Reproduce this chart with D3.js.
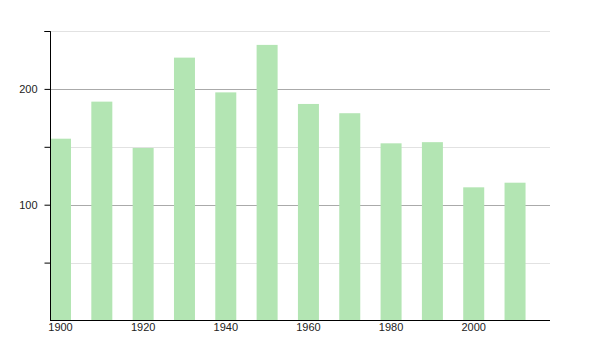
<!DOCTYPE html>
<html>
<head>
<meta charset="utf-8">
<script src="https://cdn.jsdelivr.net/npm/d3@7"></script>
<style>
  body { margin: 0; background: #fff; }
  svg text { font-family: "Liberation Sans", Arial, sans-serif; font-size: 11px; fill: #222; }
</style>
</head>
<body>
<div id="chart"></div>
<script>
const years = [1900, 1910, 1920, 1930, 1940, 1950, 1960, 1970, 1980, 1990, 2000, 2010];
const values = [157, 189, 149, 227, 197, 238, 187, 179, 153, 154, 115, 119];
const xTicks = [1900, 1920, 1940, 1960, 1980, 2000];
const yMajor = [100, 200];
const yMinor = [50, 150, 250];

const width = 600, height = 350;
const margin = { top: 31, right: 50, bottom: 30, left: 50 };

const svg = d3.select("#chart").append("svg")
  .attr("width", width)
  .attr("height", height);

const x = d3.scaleLinear().domain([1900, 2021]).range([margin.left, width - margin.right]);
const y = d3.scaleLinear().domain([0, 250]).range([height - margin.bottom + 0.5, margin.top]);
const barW = 21;

// blur for the soft bar edges
const defs = svg.append("defs");
defs.append("filter").attr("id", "soft")
  .attr("x", "-20%").attr("width", "140%")
  .append("feGaussianBlur").attr("stdDeviation", "0.6 0");

// grid lines
svg.append("g").selectAll("line").data(yMinor).enter().append("line")
  .attr("x1", margin.left).attr("x2", width - margin.right)
  .attr("y1", d => Math.round(y(d)) + 0.5).attr("y2", d => Math.round(y(d)) + 0.5)
  .attr("stroke", "#e2e2e2");
svg.append("g").selectAll("line").data(yMajor).enter().append("line")
  .attr("x1", margin.left).attr("x2", width - margin.right)
  .attr("y1", d => Math.round(y(d)) + 0.5).attr("y2", d => Math.round(y(d)) + 0.5)
  .attr("stroke", "#aaa");

// bars
svg.append("g").selectAll("rect").data(years).enter().append("rect")
  .attr("x", d => x(d))
  .attr("width", barW)
  .attr("y", (d, i) => y(values[i]))
  .attr("height", (d, i) => y(0) - y(values[i]))
  .attr("fill", "#b3e5b3")
  .attr("filter", "url(#soft)");

// y axis
const yAxis = svg.append("g")
  .attr("transform", `translate(${margin.left + 0.5},0)`)
  .call(d3.axisLeft(y).tickValues([50, 100, 150, 200, 250])
    .tickSize(6).tickFormat(d => (yMajor.includes(d) ? d : "")));
yAxis.select(".domain").attr("stroke", "#000").attr("d", `M-6,${y(250) + 0.5}H0V${y(0)}`);
yAxis.selectAll(".tick line").attr("stroke", "#000");
yAxis.selectAll(".tick text").attr("x", -13);

// x axis
const xAxis = svg.append("g")
  .attr("transform", `translate(0,${Math.round(y(0)) - 0.5})`)
  .call(d3.axisBottom(x).tickValues(xTicks).tickSize(0).tickFormat(d3.format("d")));
xAxis.select(".domain").attr("stroke", "#000").attr("d", `M${margin.left},0H${width - margin.right}`);
xAxis.selectAll(".tick").attr("transform", d => `translate(${x(d) + barW / 2},0)`);
xAxis.selectAll(".tick text").attr("y", 3);
</script>
</body>
</html>
